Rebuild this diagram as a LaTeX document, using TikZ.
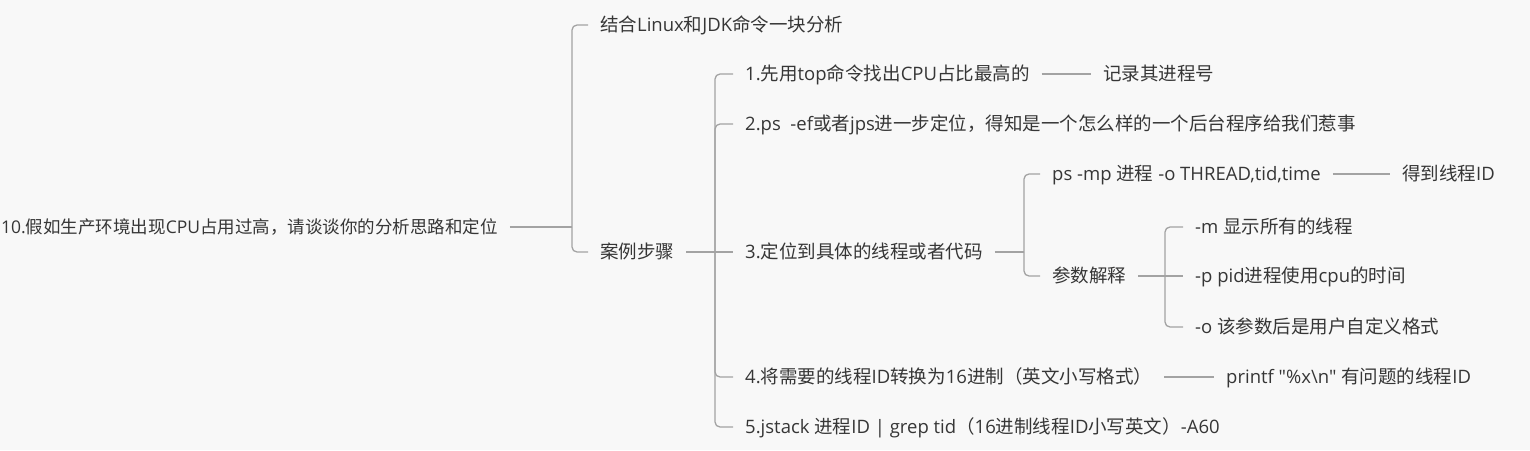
\documentclass[tikz,border=0pt]{standalone}
\usepackage{fontspec}
\setmainfont{Open Sans}
\newfontfamily\zhf{Noto Sans CJK SC}
\newcommand\zh[1]{{\zhf #1}}
\font\qfa="Open Sans" at 18.5pt
\definecolor{bg}{HTML}{F8F8F8}
\definecolor{ln}{HTML}{A3A3A3}
\definecolor{tx}{HTML}{363636}
\begin{document}
\begin{tikzpicture}[x=1pt,y=-1pt,
  t/.style={anchor=west, inner xsep=12pt, inner ysep=0pt, text height=15pt, text depth=2pt,
    font=\fontsize{18.5}{22}\selectfont, text=tx},
  rt/.style={t, font=\fontsize{17.5}{21}\selectfont},
  conn/.style={draw=ln, line width=1.3pt, rounded corners=5pt}]
\useasboundingbox[fill=bg] (0,0) rectangle (1530,450);
% level 0
\node[rt] (root) at (-11,227) {10.\zh{假如生产环境出现}CPU\zh{占用过高，请谈谈你的分析思路和定位}};
\coordinate (j1) at (572,227);
% level 1
\node[t] (a) at (588,25) {\zh{结合}Linux\zh{和}JDK\zh{命令一块分析}};
\node[t] (b) at (588,252) {\zh{案例步骤}};
\draw[conn] (root) -- (j1);
\draw[conn] (j1) |- (a);
\draw[conn] (j1) |- (b);
% level 2
\coordinate (j2) at (715,252);
\node[t] (s1) at (733,74) {1.\zh{先用}top\zh{命令找出}CPU\zh{占比最高的}};
\node[t] (s2) at (733,124) {2.ps\ \ -ef\zh{或者}jps\zh{进一步定位，得知是一个怎么样的一个后台程序给我们惹事}};
\node[t] (s3) at (733,252) {3.\zh{定位到具体的线程或者代码}};
\node[t] (s4) at (733,377) {4.\zh{将需要的线程}ID\zh{转换为}16\zh{进制（英文小写格式）}};
\node[t] (s5) at (733,427) {5.jstack \zh{进程}ID | grep tid\zh{（}16\zh{进制线程}ID\zh{小写英文）}-A60};
\draw[conn] (b) -- (j2);
\draw[conn] (j2) |- (s1);
\draw[conn] (j2) |- (s2);
\draw[conn] (j2) -- (s3);
\draw[conn] (j2) |- (s4);
\draw[conn] (j2) |- (s5);
% leaves of s1, s4
\node[t] (s1r) at (1091,74) {\zh{记录其进程号}};
\draw[conn] (s1) -- (s1r);
\node[t] (s4r) at (1214,377) {printf {\qfa"}\%x\textbackslash n{\qfa"} \zh{有问题的线程}ID};
\draw[conn] (s4) -- (s4r);
% level 3 under s3
\coordinate (j3) at (1024,252);
\node[t] (p1) at (1040,174) {ps -mp \zh{进程} -o THREAD,tid,time};
\node[t] (p2) at (1040,276) {\zh{参数解释}};
\draw[conn] (s3) -- (j3);
\draw[conn] (j3) |- (p1);
\draw[conn] (j3) |- (p2);
\node[t] (p1r) at (1390,174) {\zh{得到线程}ID};
\draw[conn] (p1) -- (p1r);
% level 4 under p2
\coordinate (j4) at (1165,276);
\node[t] (q1) at (1183,227) {-m \zh{显示所有的线程}};
\node[t] (q2) at (1183,276) {-p pid\zh{进程使用}cpu\zh{的时间}};
\node[t] (q3) at (1183,327) {-o \zh{该参数后是用户自定义格式}};
\draw[conn] (p2) -- (j4);
\draw[conn] (j4) |- (q1);
\draw[conn] (j4) -- (q2);
\draw[conn] (j4) |- (q3);
\end{tikzpicture}
\end{document}
